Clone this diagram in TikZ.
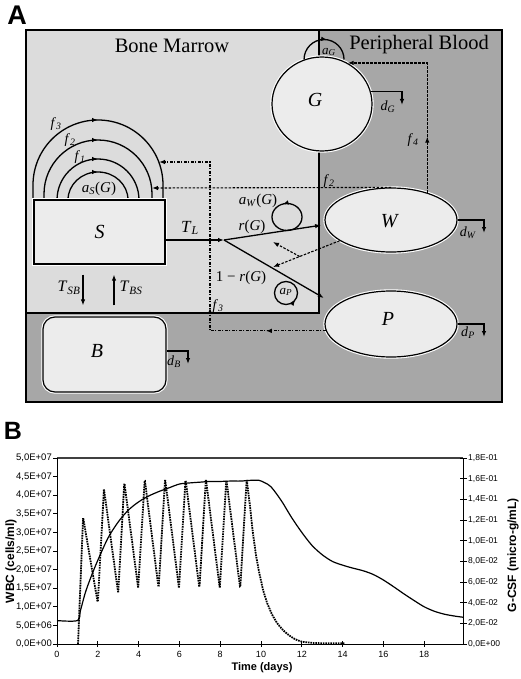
\documentclass[tikz,border=0pt]{standalone}
\usepackage{fontspec}
\setmainfont{Liberation Serif}
\newfontfamily\plotfont{Liberation Sans}
\usetikzlibrary{arrows.meta,shapes.geometric,decorations.markings,calc}
\newcommand{\mysub}[2]{\textit{#1}\textsubscript{\textit{#2}}}
\newcommand{\myfs}[1]{\fontsize{#1}{#1}\selectfont}
\definecolor{bmgray}{HTML}{DCDCDC}
\definecolor{pbgray}{HTML}{A7A7A7}
\definecolor{nodefill}{HTML}{ECECEC}
\begin{document}
\begin{tikzpicture}[x=1pt,y=-1pt,
  conn/.style={line width=1.3pt},
  arr/.style={-{Latex[length=6pt,width=4.5pt]}},
  dline/.style={line width=1.1pt, dash pattern=on 2.5pt off 1.5pt},
  ddline/.style={line width=1.1pt, dash pattern=on 3pt off 1.5pt on 1pt off 1.5pt},
  midarrow/.style={postaction={decorate}, decoration={markings, mark=at position #1 with {\arrow{Latex[length=6pt,width=4.5pt]}}}},
  halo/.style={preaction={draw=white,line width=3.4pt}},
  boxnode/.style={draw, line width=1.2pt, fill=nodefill, halo, inner sep=0pt},
  ellnode/.style={ellipse, boxnode},
  lab/.style={font=\myfs{14}},
  big/.style={font=\myfs{20}},
  tick/.style={line width=0.8pt},
]
\useasboundingbox (0,0) rectangle (520,679);
\fill[white] (0,0) rectangle (520,679);

% ---------- Panel A ----------
\node[font=\plotfont\bfseries\myfs{27}] (pA) at (17,15) {A};
\draw[line width=1.2pt, fill=pbgray] (26,30) rectangle (502,402);
\draw[line width=1.2pt, fill=bmgray] (26,30) rectangle (319,313);
\node[font=\myfs{20.5}] (tBM) at (172,46) {Bone Marrow};
\node[font=\myfs{20.5}] (tPB) at (419,45) {Peripheral Blood};

% arcs over S
\draw[conn, midarrow=0.5] (33,200) -- (33,185) arc[start angle=180,end angle=360,radius=65] -- (163,200);
\draw[conn, midarrow=0.5] (44,200) -- (44,194) arc[start angle=180,end angle=360,radius=54] -- (152,200);
\draw[conn, midarrow=0.5] (57,200) arc[start angle=180,end angle=360,radius=41];
\draw[conn, midarrow=0.5] (68,200) arc[start angle=180,end angle=360,x radius=30,y radius=28];
\node[lab] (lf3) at (56,124) {\mysub{f}{3}};
\node[lab] (lf2) at (70,140) {\mysub{f}{2}};
\node[lab] (lf1) at (80,157) {\mysub{f}{1}};
\node[font=\myfs{15}] (laS) at (99,189) {\mysub{a}{S}(\textit{G})};

% nodes
\node[boxnode, minimum width=131pt, minimum height=64pt] (S) at (99.5,232) {\myfs{20}\textit{S}};
\node[boxnode, rounded corners=12pt, minimum width=123pt, minimum height=75pt] (B) at (104.5,354.5) {};
\node[big] (lB) at (97,351) {\textit{B}};
\node[ellnode, minimum width=100pt, minimum height=94pt] (G) at (322,104) {};
\node[big] (lG) at (315,100) {\textit{G}};
\node[ellnode, minimum width=132pt, minimum height=64pt] (W) at (391,220) {};
\node[big] (lW) at (390,221) {\textit{W}};
\node[ellnode, minimum width=132pt, minimum height=66pt] (P) at (391,324) {};
\node[big] (lP) at (388,319) {\textit{P}};

% a_G loop
\draw[conn, midarrow=0.55] (G.112) arc[start angle=180,end angle=360,radius=20];
\node[font=\myfs{13}] (laG) at (329,52) {\mysub{a}{G}};

% decay arrows
\coordinate (dGe) at (402,105);
\draw[conn, arr] (G.14) -| (dGe);
\node[lab] (ldG) at (388,107) {\mysub{d}{G}};
\coordinate (dWe) at (484,233);
\draw[conn, arr] (W.east) -| (dWe);
\node[lab] (ldW) at (468,233) {\mysub{d}{W}};
\coordinate (dPe) at (484,337);
\draw[conn, arr] (P.east) -| (dPe);
\node[lab] (ldP) at (468,333) {\mysub{d}{P}};
\coordinate (dBe) at (188,364);
\draw[conn, arr] ([yshift=3.5pt]B.east) -| (dBe);
\node[lab] (ldB) at (174,362) {\mysub{d}{B}};

% feedback dashed lines
\coordinate (f3corner) at (210,162);
\coordinate (f3end) at (159,162);
\draw[ddline, arr, postaction={decorate}, decoration={markings,
   mark=at position 60pt with {\arrow{Latex[length=6pt,width=4.5pt]}},
   mark=at position 139pt with {\arrow{Latex[length=6pt,width=4.5pt]}}}]
   (P.186) -| (f3corner) -- (f3end);
\node[lab] (lf3b) at (218,306) {\mysub{f}{3}};
\coordinate (f2end) at (152,188);
\draw[dline, arr] (W.north) -- (f2end);
\node[lab] (lf2b) at (329,181) {\mysub{f}{2}};
\draw[dline, arr, midarrow=56pt] (W.37) |- (G.58);
\node[lab] (lf4) at (413,140) {\mysub{f}{4}};

% S transitions
\coordinate (br) at (224,240);
\draw[conn, arr] ([yshift=-8pt]S.east) -- (br);
\node[font=\myfs{17}] (lTL) at (190,228) {\mysub{T}{L}};
\draw[conn, arr, shorten >=4pt] (br) -- (W.184);
\draw[conn, arr, shorten >=14pt] (br) -- (P.161);
\node[font=\myfs{15}] (lr) at (252,227) {\textit{r}(\textit{G})};
\node[font=\myfs{15}] (l1r) at (241,278) {1 − \textit{r}(\textit{G})};

% self-renewal loops
\draw[conn, midarrow=0.3] (302,217) arc[start angle=0,end angle=-360,x radius=15,y radius=13.5];
\node[font=\myfs{15}] (laW) at (258,201) {\mysub{a}{W}(\textit{G})};
\draw[conn, midarrow=0.9] (297.5,293) arc[start angle=0,end angle=-360,radius=11.5];
\node[font=\myfs{13}] (laP) at (286,292) {\mysub{a}{P}};

% dashed arrows from W
\coordinate (dwA) at (273,267);
\coordinate (dwB) at (273,242);
\draw[dline, arr] (W.202) -- (dwA);
\draw[dline, arr] ($(W.202)!0.6!(dwA)$) -- (dwB);

% S <-> B
\draw[conn, arr] ([xshift=-16.5pt,yshift=-10pt]S.south) -- ([xshift=-21.5pt,yshift=11pt]B.north);
\draw[conn, arr] ([xshift=9.5pt,yshift=11pt]B.north) -- ([xshift=14.5pt,yshift=-10pt]S.south);
\node[font=\myfs{16}] (lTSB) at (69,288) {\mysub{T}{SB}};
\node[font=\myfs{16}] (lTBS) at (131,288) {\mysub{T}{BS}};

% ---------- Panel B ----------
\node[font=\plotfont\bfseries\myfs{25}] (pB) at (13,431) {B};
\draw[line width=2.5pt, black!75] (57,458) -- (463,458);
\draw[line width=0.9pt] (57,458) -- (57,644) -- (463,644) -- (463,458);
\foreach \k/\lab in {0/{0,0E+00},1/{5,0E+06},2/{1,0E+07},3/{1,5E+07},4/{2,0E+07},5/{2,5E+07},6/{3,0E+07},7/{3,5E+07},8/{4,0E+07},9/{4,5E+07},10/{5,0E+07}}{
  \draw[tick] (53,{644-18.6*\k}) -- (57,{644-18.6*\k});
  \node[anchor=east, inner sep=0pt, font=\plotfont\myfs{9.5}] at (52,{644-18.6*\k}) {\lab};
}
\foreach \k/\lab in {0/{0,0E+00},1/{2,0E-02},2/{4,0E-02},3/{6,0E-02},4/{8,0E-02},5/{1,0E-01},6/{1,2E-01},7/{1,4E-01},8/{1,6E-01},9/{1,8E-01}}{
  \draw[tick] (460,{644-20.667*\k}) -- (467,{644-20.667*\k});
  \node[anchor=west, inner sep=0pt, font=\plotfont\myfs{8.5}] at (468,{644-20.667*\k}) {\lab};
}
\foreach \d in {0,2,...,18}{
  \draw[tick] ({57+20.4*\d},641) -- ({57+20.4*\d},647);
  \node[font=\plotfont\myfs{9}] at ({57+20.4*\d},654) {\d};
}
\node[rotate=90, font=\plotfont\bfseries\myfs{12}] (yl) at (11,561) {WBC (cells/ml)};
\node[rotate=90, font=\plotfont\bfseries\myfs{12}] (yr) at (513,555) {G-CSF (micro-g/mL)};
\node[font=\plotfont\bfseries\myfs{11}] (xl) at (262,668) {Time (days)};

\begin{scope}[shift={(57,644)}, x=20.4pt, y=37.2pt]
\draw[line width=1.2pt, smooth, tension=0.5] plot coordinates {
 (0,0.63) (1.0,0.63) (1.15,0.9) (1.4,1.4) (1.7,1.85) (2.0,2.25) (2.5,2.85) (3.0,3.28) (3.5,3.6) (4.0,3.82) (4.5,3.98) (5.0,4.1) (5.5,4.2) (6.0,4.3) (6.5,4.33) (7,4.35) (7.5,4.37) (8,4.37) (8.5,4.38) (9,4.38) (9.5,4.4) (9.9,4.4) (10.2,4.33) (10.5,4.22) (11,3.85) (11.5,3.4) (12,3.0) (12.5,2.65) (13,2.4) (13.5,2.22) (14,2.12) (14.5,2.04) (15,1.97) (15.5,1.87) (16,1.72) (16.5,1.54) (17,1.35) (17.5,1.17) (18,1.0) (18.5,0.88) (19,0.8) (19.5,0.75) (19.9,0.72)};
\draw[line width=1.8pt, dash pattern=on 1.6pt off 0.9pt, rounded corners=1.5pt] plot coordinates {
 (1.03,0) (1.28,3.4) (2.0,1.1) (2.3,4.17) (3.0,1.37) (3.3,4.35) (3.98,1.5) (4.3,4.43) (4.98,1.5) (5.3,4.43) (5.98,1.5) (6.3,4.43) (6.98,1.5) (7.3,4.43) (7.98,1.5) (8.3,4.43) (8.98,1.5) (9.3,4.43) (9.45,3.75) (9.6,3.0) (9.75,2.4) (9.9,1.95) (10.1,1.45) (10.3,1.1) (10.55,0.78) (10.8,0.55) (11.1,0.36) (11.4,0.22) (11.7,0.12) (12,0.06) (12.5,0.03) (13,0.02) (14.1,0.02)};
\end{scope}
\end{tikzpicture}
\end{document}
